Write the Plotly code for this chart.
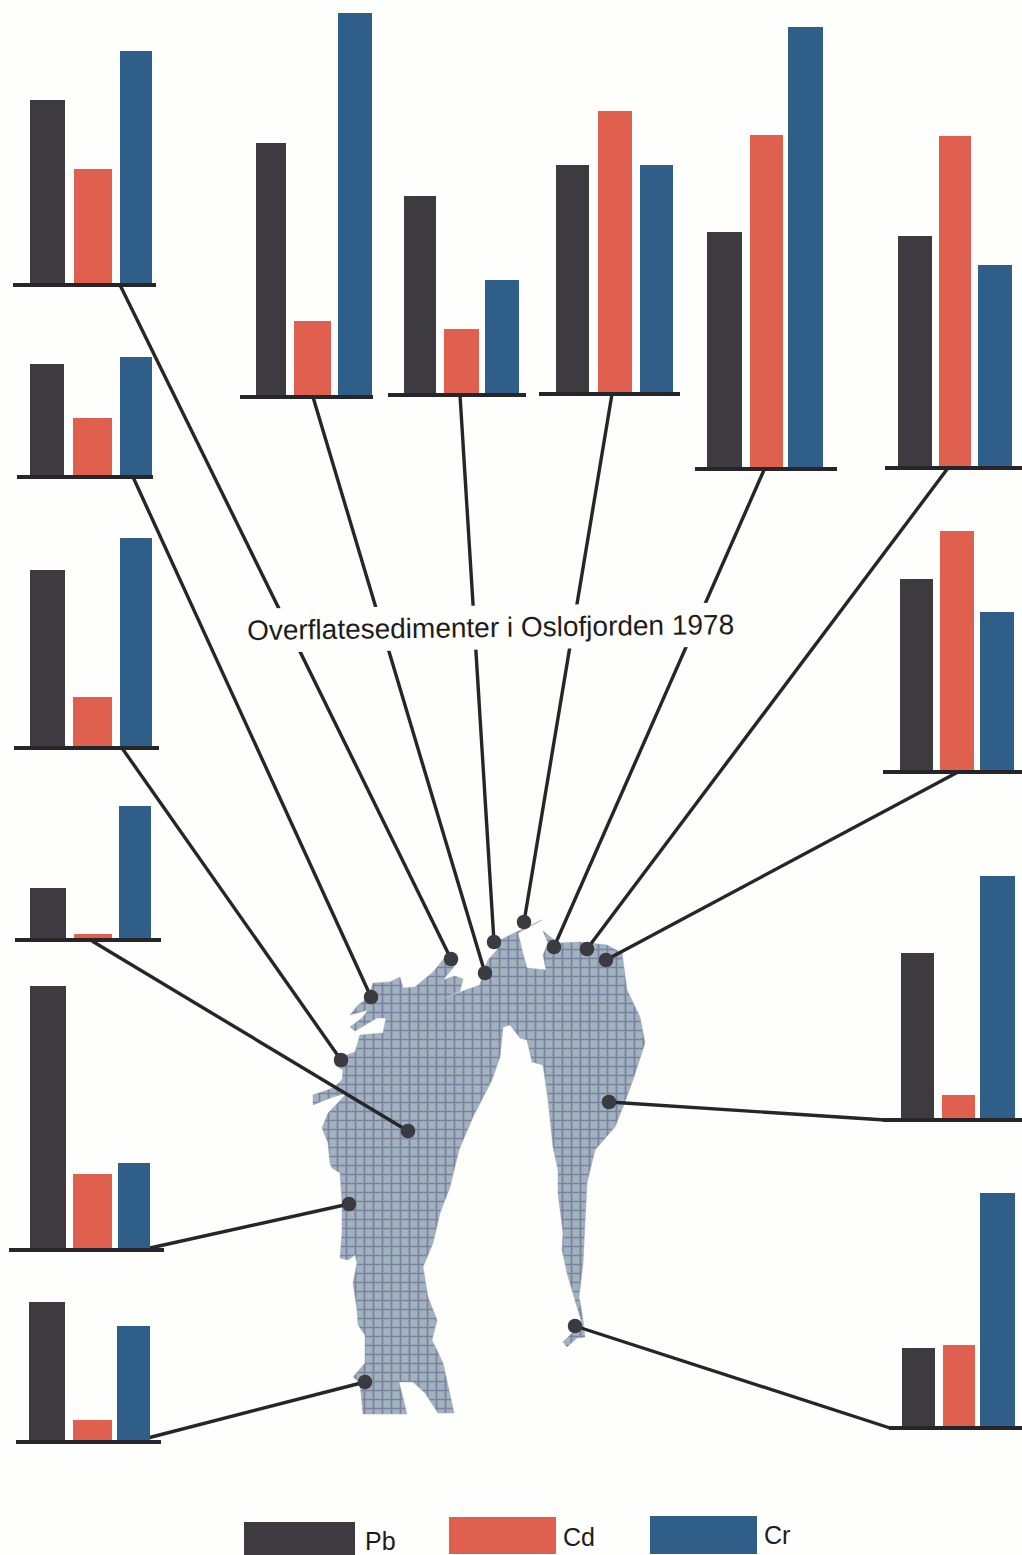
import plotly.graph_objects as go

W, H = 1022, 1555
METALS = ["Pb", "Cd", "Cr"]
COLORS = ["#3d3a40", "#e0604f", "#2f5e88"]
INK = "#26252a"
PAPER = "#fefefc"

# Bar readings per station (unit: relative concentration)
pb_values = [185, 113, 178, 52, 264, 140, 254, 199, 229, 237, 232, 193, 167, 80]
cd_values = [116, 59, 51, 6, 76, 22, 76, 66, 283, 334, 332, 241, 25, 83]
cr_values = [234, 120, 210, 134, 87, 116, 384, 115, 229, 442, 203, 160, 244, 235]

# Panel layout, image pixels: baseline left/right/y
panel_left = [13, 17, 14, 15, 9, 16, 240, 388, 539, 695, 885, 883, 883, 889]
panel_right = [156, 153, 159, 161, 164, 161, 373, 526, 680, 837, 1022, 1022, 1022, 1022]
panel_base = [285, 477, 748, 940, 1250, 1442, 397, 395, 394, 469, 468, 772, 1120, 1428]
AXIS_LINE = 4

# Bar edges per panel, image pixels
pb_left = [30, 30, 30, 30, 30, 29, 256, 404, 556, 707, 898, 900, 901, 902]
pb_right = [65, 64, 65, 66, 66, 65, 286, 436, 589, 742, 932, 933, 934, 935]
cd_left = [74, 73, 73, 74, 73, 73, 294, 444, 598, 750, 939, 940, 942, 943]
cd_right = [112, 112, 112, 112, 112, 112, 331, 479, 632, 783, 971, 974, 975, 975]
cr_left = [120, 120, 120, 119, 118, 117, 338, 485, 640, 788, 978, 980, 980, 980]
cr_right = [152, 152, 152, 151, 150, 150, 372, 519, 673, 823, 1012, 1014, 1015, 1015]

# Connector from each panel's baseline to its sampling station on the map
link_x0 = [120, 133, 122, 92, 150, 140, 313, 460, 612, 764, 948, 958, 885, 890]
link_y0 = [285, 477, 748, 941, 1248, 1440, 397, 395, 394, 470, 468, 772, 1120, 1428]
station_x = [451, 371, 341, 408, 349, 365, 485, 494, 524, 554, 587, 606, 609, 575]
station_y = [959, 997, 1060, 1131, 1204, 1382, 973, 942, 922, 947, 949, 960, 1102, 1326]

# Outline of the Oslofjord
fjord_x = [542, 520, 510, 500, 497, 488, 483, 480, 460, 438, 460, 463, 455, 443, 457, 447, 433, 415,
           403, 400, 390, 373, 368, 358, 350, 368, 362, 350, 355, 377, 386, 383, 360, 355, 342, 335,
           343, 342, 333, 313, 313, 333, 350, 353, 340, 328, 322, 328, 330, 332, 340, 342, 342, 340,
           348, 355, 357, 353, 357, 358, 365, 365, 353, 360, 363, 407, 399, 413, 425, 438, 454, 443,
           432, 437, 428, 423, 433, 440, 450, 459, 473, 492, 500, 503, 510, 520, 527, 532, 543, 548,
           553, 558, 558, 563, 562, 567, 577, 582, 563, 567, 577, 585, 582, 579, 583, 585, 587, 595,
           615, 623, 633, 645, 640, 627, 623, 622, 607, 580, 558, 543, 548, 543, 546, 527, 522, 518, 542]
fjord_y = [920, 930, 935, 940, 950, 960, 972, 985, 992, 1001, 991, 979, 976, 980, 963, 955, 972, 987,
           988, 977, 982, 983, 998, 1005, 1015, 1010, 1018, 1027, 1031, 1018, 1018, 1033, 1035, 1052,
           1057, 1065, 1070, 1080, 1088, 1095, 1105, 1097, 1092, 1087, 1100, 1113, 1128, 1143, 1163,
           1168, 1173, 1203, 1233, 1258, 1260, 1255, 1263, 1283, 1310, 1325, 1335, 1363, 1377, 1383,
           1414, 1414, 1382, 1382, 1393, 1413, 1413, 1363, 1340, 1320, 1297, 1267, 1243, 1213, 1187,
           1150, 1117, 1080, 1057, 1027, 1025, 1038, 1040, 1062, 1065, 1100, 1147, 1170, 1193, 1233,
           1250, 1273, 1307, 1323, 1342, 1347, 1338, 1337, 1313, 1297, 1263, 1217, 1183, 1150, 1127,
           1107, 1080, 1043, 1017, 990, 963, 953, 945, 942, 943, 931, 943, 955, 970, 968, 950, 933, 920]

legend_left = [244, 449, 650]
legend_right = [355, 556, 757]
legend_top = [1522, 1517, 1516]
legend_bottom = [1555, 1554, 1554]
legend_text_x = [363, 561, 762]
legend_text_y = [1541, 1537, 1535]

TITLE = "Overflatesedimenter i Oslofjorden 1978"

fig = go.Figure()
layout = {}

# Map layer, on axes spanning the whole page in image pixels
fig.add_trace(go.Scatter(x=fjord_x, y=fjord_y, mode="lines", fill="toself",
                         line=dict(color="#9aa9b8", width=0.5), fillcolor="#9db0bb",
                         fillpattern=dict(shape="+", size=9, solidity=0.35,
                                          fgcolor="#7f7fa4", bgcolor="#a0b4bd", fillmode="replace"),
                         hoverinfo="skip", showlegend=False))
for i in range(len(station_x)):
    fig.add_trace(go.Scatter(x=[link_x0[i], station_x[i]], y=[link_y0[i], station_y[i]], mode="lines",
                             line=dict(color=INK, width=3.4), hoverinfo="skip", showlegend=False))
fig.add_trace(go.Scatter(x=station_x, y=station_y, mode="markers",
                         marker=dict(size=14.5, color="#3a3a40"), hoverinfo="skip", showlegend=False))
layout["xaxis"] = dict(domain=[0, 1], range=[0, W], visible=False, fixedrange=True)
layout["yaxis"] = dict(domain=[0, 1], range=[H, 0], visible=False, fixedrange=True)

# One small bar chart per station
for i in range(len(pb_values)):
    n = i + 2
    vals = [pb_values[i], cd_values[i], cr_values[i]]
    lefts = [pb_left[i], cd_left[i], cr_left[i]]
    rights = [pb_right[i], cd_right[i], cr_right[i]]
    top = max(vals)
    lift = AXIS_LINE / 2  # centre the thick baseline on the reading's zero
    fig.add_trace(go.Bar(x=[(a + b) / 2 for a, b in zip(lefts, rights)], y=vals,
                         width=[b - a for a, b in zip(lefts, rights)],
                         text=METALS, textposition="none",
                         xaxis=f"x{n}", yaxis=f"y{n}",
                         marker=dict(color=COLORS, line=dict(width=0)), showlegend=False))
    layout[f"xaxis{n}"] = dict(
        domain=[panel_left[i] / W, panel_right[i] / W], anchor=f"y{n}",
        range=[panel_left[i], panel_right[i]],
        showline=True, linecolor=INK, linewidth=AXIS_LINE, showticklabels=False, ticks="", showgrid=False,
        zeroline=False, fixedrange=True)
    layout[f"yaxis{n}"] = dict(
        domain=[1 - (panel_base[i] - lift) / H, 1 - (panel_base[i] - top) / H], anchor=f"x{n}",
        range=[lift, top], visible=False, showgrid=False, zeroline=False, fixedrange=True)

shapes = [dict(type="rect", xref="x", yref="y", x0=legend_left[k], x1=legend_right[k], y0=legend_top[k],
               y1=legend_bottom[k], fillcolor=COLORS[k], line=dict(width=0)) for k in range(3)]
annotations = [dict(x=legend_text_x[k], y=legend_text_y[k], xref="x", yref="y", text=METALS[k],
                    showarrow=False, xanchor="left", yanchor="middle",
                    font=dict(family="Liberation Sans", size=25, color="#1c1c20")) for k in range(3)]
annotations.append(dict(x=490, y=627, xref="x", yref="y", text=TITLE, showarrow=False, textangle=-0.7,
                        font=dict(family="Liberation Sans", size=28, color="#1c1c20"),
                        bgcolor=PAPER, borderpad=6))

fig.update_layout(width=W, height=H, margin=dict(l=0, r=0, t=0, b=0), paper_bgcolor=PAPER,
                  plot_bgcolor="rgba(0,0,0,0)", showlegend=False, shapes=shapes,
                  annotations=annotations, **layout)
fig.write_html("out.html", config={"displayModeBar": False},
               post_script="document.body.style.margin='0';document.body.style.background='#fefefc';")
